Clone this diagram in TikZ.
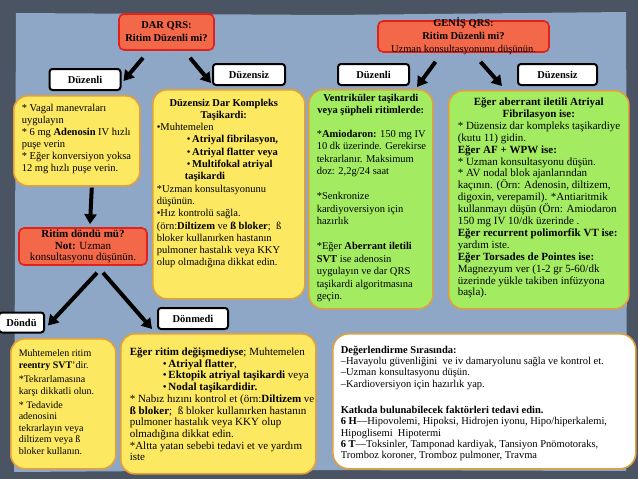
\documentclass[tikz,border=0pt]{standalone}
\usepackage{fontspec}
\setmainfont{Liberation Serif}
\usetikzlibrary{arrows.meta}
\definecolor{bgdark}{HTML}{4A5462}
\definecolor{bglight}{HTML}{8EA7C7}
\definecolor{byellow}{HTML}{FDE862}
\definecolor{bgreen}{HTML}{A3EC62}
\definecolor{borange}{HTML}{E2A03C}
\definecolor{rfill}{HTML}{F4684A}
\definecolor{rline}{HTML}{E0221B}
\newcommand{\tbx}[3]{\begin{minipage}[c][#2][t]{#1}\rightskip=-60pt plus 1fil\relax\parfillskip=0pt plus 1fil\relax\vspace*{#3}}
\newcommand{\bul}{\hspace*{30pt}•\,}
\newcommand{\fs}[2]{\fontsize{#1}{#2}\selectfont}
\begin{document}
\begin{tikzpicture}[x=1pt,y=-1pt,
  ybox/.style={draw=borange, line width=1.6pt, fill=byellow, rounded corners=14pt, anchor=north west, inner ysep=0pt},
  gbox/.style={ybox, fill=bgreen},
  wbox/.style={ybox, fill=white, rounded corners=16pt},
  rbox/.style={draw=rline, fill=rfill, line width=1.6pt, rounded corners=5pt, inner sep=0pt, align=center, font=\fs{10.5}{12}},
  lab/.style={draw=black, fill=white, line width=2pt, rounded corners=3pt, inner sep=0pt, minimum height=21pt, font=\fs{10.5}{11}\bfseries},
  arr/.style={line width=4pt, -{Triangle[length=10pt,width=12pt]}}
]
\useasboundingbox (0,0) rectangle (638,479);
% background
\fill[bgdark] (0,0) rectangle (638,479);
\fill[bglight] (16,13) -- (330,15) -- (626,12) -- (627,250) -- (626,471) -- (300,470) -- (14,472) -- (15,250) -- cycle;

% red decision boxes
\node[rbox, minimum width=95pt, minimum height=36pt] (dar) at (166.5,32) {\textbf{DAR QRS:}\\[1pt]\textbf{Ritim Düzenli mi?}};
\node[rbox, minimum width=171pt, minimum height=31pt] (genis) at (463.5,36.5)
  {\parbox[c][31pt][c]{171pt}{\centering\fs{10.5}{13}\textbf{GENİŞ QRS:}\\\textbf{Ritim Düzenli mi?}\\Uzman konsultasyonunu düşünün.}};

% labels
\node[lab, minimum width=71pt] (dzl) at (85,79.5) {Düzenli};
\node[lab, minimum width=72pt] (dzs) at (249,74.5) {Düzensiz};
\node[lab, minimum width=71pt] (gdzl) at (373.5,74.5) {Düzenli};
\node[lab, minimum width=79pt] (gdzs) at (557.5,74.5) {Düzensiz};

% yellow 1
\node[ybox, font=\fs{10.5}{12}, inner xsep=8pt] (y1) at (13,95) {\tbx{110pt}{90pt}{8pt}%
* Vagal manevraları\\ uygulayın\\{}* 6 mg \textbf{Adenosin} IV hızlı\\ puşe verin\\{}* Eğer konversiyon yoksa\\ 12 mg hızlı puşe verin.\end{minipage}};

% yellow 2
\node[ybox, font=\fs{10.5}{12.3}, inner xsep=4pt] (y2) at (152,89) {\tbx{144pt}{209pt}{9pt}%
{\centering\hspace*{-10pt}\textbf{Düzensiz Dar Kompleks}\\\hspace*{-10pt}\textbf{Taşikardi:}\par}
•Muhtemelen\\
\bul\textbf{Atriyal fibrilasyon,}\\
\bul\textbf{Atriyal flatter veya}\\
\bul\textbf{Multifokal atriyal}\\
\hspace*{28pt}\textbf{taşikardi}\\{}%
*Uzman konsultasyonunu\\ düşünün.\\ •Hız kontrolü sağla.\\
(örn:\textbf{Diltizem} ve \textbf{ß bloker};~ ß\\ bloker kullanırken hastanın\\ pulmoner hastalık veya KKY\\ olup olmadığına dikkat edin.\end{minipage}};

% green 3
\node[gbox, font=\fs{10.5}{12.5}, inner xsep=8pt] (g3) at (308,89) {\tbx{108pt}{219pt}{4pt}%
{\centering\textbf{Ventriküler taşikardi}\\\textbf{veya şüpheli ritimlerde:}\par}
\vspace{11pt}
*\textbf{Amiodaron:} 150 mg IV\\ 10 dk üzerinde. Gerekirse\\ tekrarlanır. Maksimum\\ doz: 2,2g/24 saat\par
\vspace{12.5pt}
*Senkronize\\ kardiyoversiyon için\\ hazırlık\par
\vspace{12.5pt}
*Eğer \textbf{Aberrant iletili}\\ \textbf{SVT} ise adenosin\\ uygulayın ve dar QRS\\ taşikardi algoritmasına\\ geçin.\end{minipage}};

% green 4
\node[gbox, font=\fs{11}{11.9}, inner xsep=9pt] (g4) at (448,90) {\tbx{162pt}{218pt}{7pt}%
{\centering\textbf{Eğer aberrant iletili Atriyal}\\\textbf{Fibrilasyon ise:}\par}
* Düzensiz dar kompleks taşikardiye\\ (kutu 11) gidin.\\ \textbf{Eğer AF + WPW ise:}\\{}* Uzman konsultasyonu düşün.\\{}* AV nodal blok ajanlarından\\ kaçının. (Örn: Adenosin, diltizem,\\ digoxin, verepamil). *Antiaritmik\\ kullanmayı düşün (Örn: Amiodaron\\ 150 mg IV 10/dk üzerinde .\\ \textbf{Eğer recurrent polimorfik VT ise:}\\ yardım iste.\\ \textbf{Eğer Torsades de Pointes ise:}\\ Magnezyum ver (1-2 gr 5-60/dk\\ üzerinde yükle takiben infüzyona\\ başla).\end{minipage}};

% ritim dondu
\node[rbox, font=\fs{11}{11.6}, minimum width=128pt, minimum height=37pt] (rit) at (83,246.5) {\textbf{Ritim döndü mü?}\\\textbf{Not:} Uzman\\konsultasyonu düşünün.};

% labels lower
\node[lab, minimum width=45pt, minimum height=20pt] (dnd) at (21.5,322.5) {Döndü};
\node[lab, minimum width=70pt] (dnm) at (193,318.5) {Dönmedi};

% yellow 5
\node[ybox, font=\fs{10}{11.6}, inner xsep=8pt] (y5) at (10,338) {\tbx{89pt}{130pt}{11pt}%
Muhtemelen ritim\\ \textbf{reentry SVT}'dir.\par\vspace{2.5pt}
*Tekrarlamasına\\ karşı dikkatli olun.\par\vspace{2.5pt}
* Tedavide\\ adenosini\\ tekrarlayın veya\\ diltizem veya ß\\ bloker kullanın.\end{minipage}};

% yellow 6
\node[ybox, font=\fs{11}{11.7}, inner xsep=9pt] (y6) at (120,333) {\tbx{177pt}{140pt}{14pt}%
\textbf{Eğer ritim değişmediyse}; Muhtemelen\\
\hspace*{33pt}•\,\textbf{Atriyal flatter},\\
\hspace*{33pt}•\,\textbf{Ektopik atriyal taşikardi} veya\\
\hspace*{33pt}•\,\textbf{Nodal taşikardidir.}\\{}%
* Nabız hızını kontrol et (örn:\textbf{Diltizem} ve\\ \textbf{ß bloker};~ ß bloker kullanırken hastanın\\ pulmoner hastalık veya KKY olup\\ olmadığına dikkat edin.\\{}*Altta yatan sebebi tedavi et ve yardım\\ iste\end{minipage}};

% white box
\node[wbox, inner xsep=8pt, font=\fs{10.5}{11.3}] (wb) at (332,333) {\tbx{287pt}{135pt}{12pt}%
\textbf{Değerlendirme Sırasında:}\\ –Havayolu güvenliğini~ ve iv damaryolunu sağla ve kontrol et.\\ –Uzman konsultasyonu düşün.\\ –Kardioversiyon için hazırlık yap.\par
\vspace{15pt}
\textbf{Katkıda bulunabilecek faktörleri tedavi edin.}\\ \textbf{6 H}—Hipovolemi, Hipoksi, Hidrojen iyonu, Hipo/hiperkalemi,\\ Hipoglisemi~ Hipotermi\\ \textbf{6 T}—Toksinler, Tamponad kardiyak, Tansiyon Pnömotoraks,\\ Tromboz koroner, Tromboz pulmoner, Travma\end{minipage}};

% arrows
\draw[arr] ([xshift=-23.5pt,yshift=-7pt]dar.south) -- ([xshift=2pt,yshift=-13pt]dzl.north east);
\draw[arr] ([xshift=23.5pt,yshift=-7pt]dar.south) -- ([xshift=-1pt,yshift=3pt]dzs.south west);
\draw[arr] ([xshift=-28pt,yshift=-9pt]genis.south) -- ([xshift=7pt,yshift=-1pt]gdzl.south east);
\draw[arr] ([xshift=17pt,yshift=-9pt]genis.south) -- ([xshift=-15pt]gdzs.south west);
\draw[arr] ([xshift=15pt,yshift=-1pt]y1.south) -- ([xshift=7pt,yshift=3pt]rit.north);
\draw[arr] ([xshift=14pt,yshift=-7pt]rit.south) -- ([xshift=3pt,yshift=-14pt]dnd.north east);
\draw[arr] ([xshift=20pt,yshift=-7pt]rit.south) -- ([xshift=-5pt,yshift=1pt]dnm.south west);
\end{tikzpicture}
\end{document}
